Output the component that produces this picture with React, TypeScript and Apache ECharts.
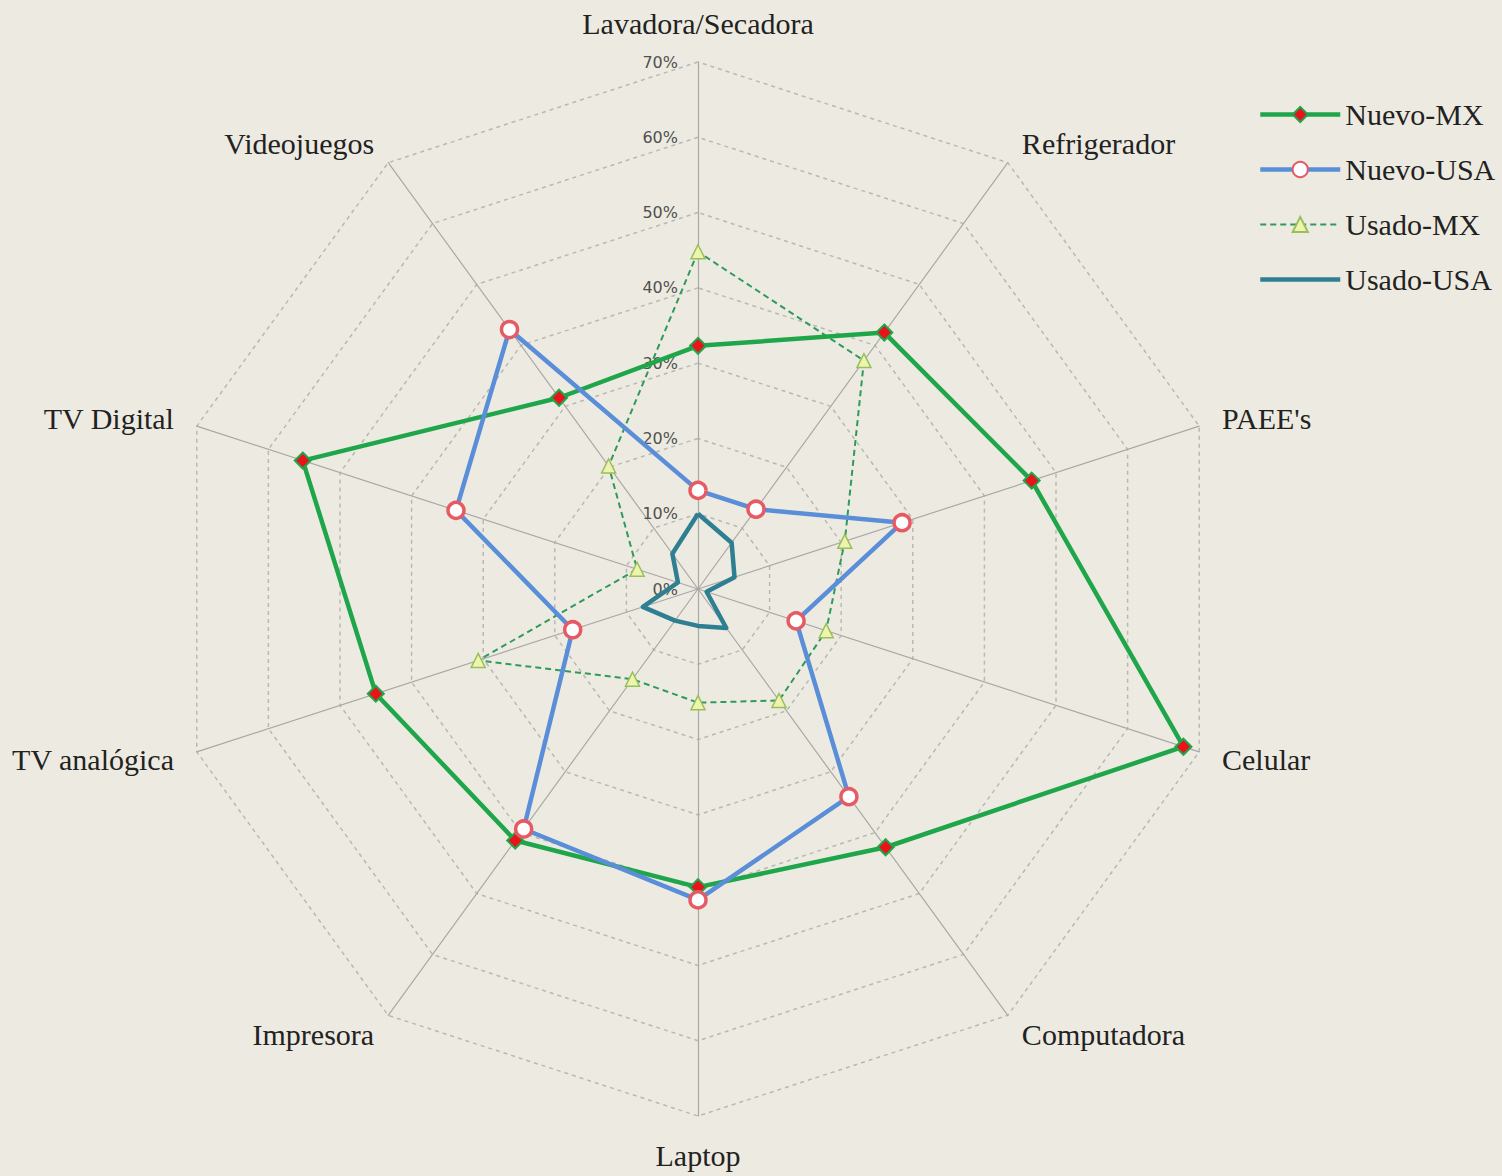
import React, { useEffect, useRef } from "react";
import * as echarts from "echarts";

// Categories in clockwise order starting from the top
const categories = [
  "Lavadora/Secadora",
  "Refrigerador",
  "PAEE's",
  "Celular",
  "Computadora",
  "Laptop",
  "Impresora",
  "TV analógica",
  "TV Digital",
  "Videojuegos",
];
const nuevoMX = [32.3, 42.1, 46.6, 67.8, 42.4, 39.6, 41.3, 45.0, 55.2, 31.4];
const nuevoUSA = [13.1, 13.1, 28.5, 13.7, 34.1, 41.3, 39.4, 17.5, 33.8, 42.6];
const usadoMX = [44.8, 37.5, 20.5, 17.9, 18.3, 15.1, 14.8, 30.7, 8.5, 20.2];
const usadoUSA = [10.0, 7.6, 5.1, 1.2, 6.4, 4.9, 5.2, 7.7, 2.8, 5.8];
const tickLabels = ["0%", "10%", "20%", "30%", "40%", "50%", "60%", "70%"];
const seriesNames = ["Nuevo-MX", "Nuevo-USA", "Usado-MX", "Usado-USA"];
const axisMax = 70;

export default function App() {
  const ref = useRef<HTMLDivElement>(null);
  useEffect(() => {
    if (!ref.current) return;
    const chart = echarts.init(ref.current, undefined, { renderer: "svg" });
    // ECharts radar goes counter-clockwise; reorder to get clockwise layout
    const order = categories.map((_, i) => (i === 0 ? 0 : categories.length - i));
    const reorder = (arr: number[]) => order.map((i) => arr[i]);
    const indicator = order.map((i, k) => {
      const ind: any = { name: categories[i], min: 0, max: axisMax };
      if (k === 0) {
        ind.axisLabel = {
          show: true,
          margin: 20,
          fontSize: 16,
          fontFamily: "DejaVu Sans",
          color: "#505050",
          formatter: (v: number) => tickLabels[Math.round(v / 10)] ?? "",
        };
      }
      return ind;
    });
    const serif = "'Liberation Serif', 'Times New Roman', serif";

    const styles: Record<string, any> = {
      "Nuevo-MX": {
        symbol: "diamond",
        symbolSize: 16,
        lineStyle: { color: "#1fa64a", width: 4.5 },
        itemStyle: { color: "#e8141b", borderColor: "#1fa64a", borderWidth: 2 },
      },
      "Nuevo-USA": {
        symbol: "circle",
        symbolSize: 16,
        lineStyle: { color: "#5b8ed8", width: 4.5 },
        itemStyle: { color: "#ffffff", borderColor: "#e65a64", borderWidth: 3.5 },
      },
      "Usado-MX": {
        symbol: "triangle",
        symbolSize: 14,
        lineStyle: { color: "#2f9a5c", width: 2, type: [6, 4] },
        itemStyle: { color: "#eef4b0", borderColor: "#98bf5a", borderWidth: 1.5 },
      },
      "Usado-USA": {
        symbol: "none",
        symbolSize: 4,
        lineStyle: { color: "#2f7f92", width: 4.5 },
        itemStyle: { color: "#2f7f92" },
      },
    };
    const values: Record<string, number[]> = {
      "Nuevo-MX": nuevoMX,
      "Nuevo-USA": nuevoUSA,
      "Usado-MX": usadoMX,
      "Usado-USA": usadoUSA,
    };
    const zOrder: Record<string, number> = {
      "Usado-USA": 2,
      "Usado-MX": 3,
      "Nuevo-MX": 4,
      "Nuevo-USA": 5,
    };

    const radarSeries = seriesNames.map((n) => ({
      type: "radar",
      name: "radar " + n,
      z: zOrder[n],
      symbol: styles[n].symbol,
      symbolSize: styles[n].symbolSize,
      lineStyle: styles[n].lineStyle,
      itemStyle: styles[n].itemStyle,
      data: [{ name: n, value: reorder(values[n]) }],
    }));
    // Hidden line series only provide line+marker legend icons
    const legendSeries = seriesNames.map((n) => ({
      type: "line",
      name: n,
      xAxisIndex: 0,
      yAxisIndex: 0,
      symbol: n === "Usado-USA" ? "triangle" : styles[n].symbol,
      lineStyle: styles[n].lineStyle,
      itemStyle: n === "Usado-USA" ? { color: "#2f7f92" } : styles[n].itemStyle,
      data: [],
    }));

    chart.setOption({
      animation: false,
      backgroundColor: "#edebe1",
      grid: { show: false, left: 0, top: 0, width: 10, height: 10 },
      xAxis: { type: "category", show: false, data: [] },
      yAxis: { type: "value", show: false },
      legend: {
        orient: "vertical",
        left: 1253,
        top: 93,
        itemWidth: 80,
        itemHeight: 19,
        itemGap: 22,
        textStyle: { fontFamily: serif, fontSize: 30, color: "#222", lineHeight: 33 },
        data: seriesNames.map((n) => {
          const item: any = {
            name: n,
            lineStyle: {
              width: styles[n].lineStyle.width,
              color: styles[n].lineStyle.color,
              type: styles[n].lineStyle.type ?? "solid",
            },
          };
          if (n === "Usado-USA") item.itemStyle = { color: "#2f7f92", opacity: 0 };
          return item;
        }),
      },
      radar: {
        center: [698, 589],
        radius: 527,
        startAngle: 90,
        splitNumber: 7,
        shape: "polygon",
        nameGap: 24,
        axisName: { fontFamily: serif, fontSize: 30, color: "#222" },
        axisLine: { lineStyle: { color: "#aaa8a6", width: 1.2 } },
        splitLine: { lineStyle: { color: "#b8b8b4", width: 1.5, type: [4, 4] } },
        splitArea: { show: false },
        axisTick: { show: false },
        axisLabel: { show: false },
        indicator,
      },
      series: [...radarSeries, ...legendSeries],
    });
    return () => chart.dispose();
  }, []);
  return (
    <div
      ref={ref}
      style={{ position: "fixed", left: 0, top: 0, width: 1502, height: 1176 }}
    />
  );
}
